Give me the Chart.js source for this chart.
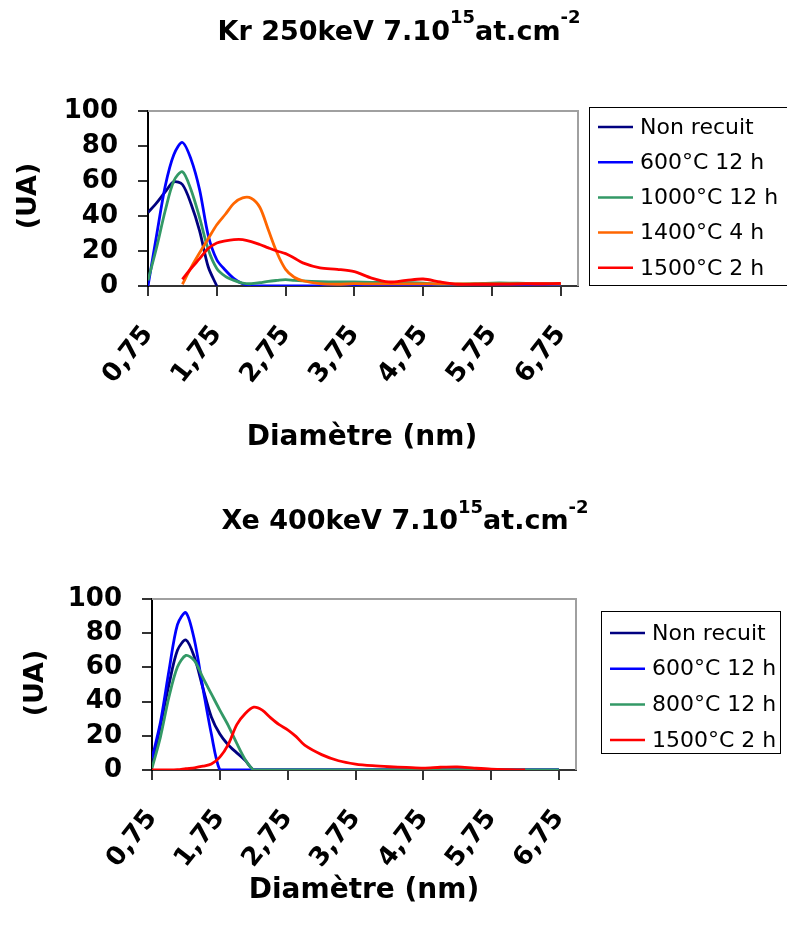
<!DOCTYPE html>
<html><head><meta charset="utf-8">
<script src="https://cdn.jsdelivr.net/npm/chart.js@4.4.1/dist/chart.umd.min.js"></script>
<style>body{margin:0;background:#fff;} canvas{display:block;}</style>
</head><body>
<canvas id="c1" width="787" height="466"></canvas>
<canvas id="c2" width="787" height="466"></canvas>
<script>
// ---------- data ----------
const X_GRID = [0.75,0.875,1,1.125,1.25,1.375,1.5,1.625,1.75,1.875,2,2.125,2.25,2.375,2.5,2.625,2.75,2.875,3,3.25,3.5,3.75,4,4.25,4.5,4.75,5,5.25,5.5,5.75,6,6.25,6.5,6.75];
const TICK_VALUES = [0.75,1.75,2.75,3.75,4.75,5.75,6.75];
const TICK_LABELS = ['0,75','1,75','2,75','3,75','4,75','5,75','6,75'];
const X_MIN = 0.75, X_MAX = 7.0;
const Y_MIN = 0, Y_MAX = 100, Y_STEP = 20;

const TITLE_TOP = ['Kr 250keV 7.10','15','at.cm','-2'];
const TITLE_BOT = ['Xe 400keV 7.10','15','at.cm','-2'];
const X_TITLE = 'Diamètre (nm)';
const Y_TITLE = '(UA)';

const KR_LABELS = ['Non recuit','600°C 12 h','1000°C 12 h','1400°C 4 h','1500°C 2 h'];
const KR_NON_RECUIT = [42,47.5,53.8,59.5,58,47,31.5,11,0];
const KR_600 = [0,29,57,75,82,72.5,55,29,15,9,4.2,1.3,0.2,0,0,0,0,0,0,0,0,0,0,0,0,0,0,0,0,0,0,0,0,0];
const KR_1000 = [3.2,22,43,60,65.3,55,39,21,10,5.5,3.2,1.7,1.3,1.9,2.7,3.2,3.6,3.2,2.9,2.5,2.3,2.3,2.1,2.1,1.9,1.7,1.1,1.1,1.3,1.7,1.7,1.5,1.3,1.3];
const KR_1400 = [null,null,null,null,1,10.5,19,27,35,41,47.3,50.4,50.2,45,32,19,9.5,5,3,1.3,1,1.3,1.2,1.2,1.2,1.2,1.2,1.2,1.2,1.2,1.2,1.2,1.2,1.2];
const KR_1500 = [null,null,null,null,3.8,10,15.6,21.4,24.6,25.8,26.5,26.5,25.4,23.7,21.8,20,18.5,16,13.2,10.3,9.5,8.2,4.5,2.3,3.2,4,2.3,1,1,1,1.1,1.3,1.3,1.5];

const XE_LABELS = ['Non recuit','600°C 12 h','800°C 12 h','1500°C 2 h'];
const XE_NON_RECUIT = [2.9,26,50,70,76,66,48,31,21,14.6,10,5.5,0,0,0,0,0,0,0,0,0,0,0,0,0,0,0,0,0,0,0,0,0,0];
const XE_600 = [6.8,28,58,85,92,76,48,21,0,0,0,0,0,0,0,0,0,0,0,0,0,0,0,0,0,0,0,0,0,0,0,0,0,0];
const XE_800 = [1,19.4,42.7,60.2,67,64,54,44.5,35,26,15.5,6,0,0,0,0,0,0,0,0,0,0,0,0,0,0,0,0,0,0,0,0,0,0];
const XE_1500 = [0,0,0,0.2,0.8,1.3,2.2,3.5,7.5,15,26.5,33,36.7,35,30.5,26.5,23.5,19.5,14.5,9,5.4,3.5,2.5,1.9,1.5,1.1,1.6,1.8,1.1,0.5,0.2,0];

const KR_COLORS = ['#000080','#0000FF','#339966','#FF6600','#FF0000'];
const XE_COLORS = ['#000080','#0000FF','#339966','#FF0000'];

// ---------- helpers ----------
function pts(xs, ys){ return ys.map((y,i)=>({x:xs[i], y:y})); }
const FONT = "'DejaVu Sans', sans-serif";

const decor = {
  id:'decor',
  beforeDatasetsDraw(chart){
    const ctx = chart.ctx, a = chart.chartArea;
    ctx.save();
    ctx.strokeStyle = '#a0a0a0'; ctx.lineWidth = 2;
    ctx.beginPath();
    ctx.moveTo(a.left, a.top); ctx.lineTo(a.right, a.top); ctx.lineTo(a.right, a.bottom);
    ctx.stroke();
    ctx.restore();
  },
  afterDraw(chart, args, o){
    const ctx = chart.ctx;
    ctx.save();
    ctx.fillStyle = '#000';
    // title with superscripts
    const parts = o.title;
    const mainF = 'bold 27px ' + FONT, supF = 'bold 18px ' + FONT;
    let total = 0; const widths = [];
    parts.forEach((t,i)=>{ ctx.font = i%2 ? supF : mainF; const w = ctx.measureText(t).width; widths.push(w); total += w; });
    let x = o.titleX - total/2;
    ctx.textBaseline = 'alphabetic'; ctx.textAlign = 'left';
    parts.forEach((t,i)=>{ ctx.font = i%2 ? supF : mainF; ctx.fillText(t, x, i%2 ? o.titleY - 16.5 : o.titleY); x += widths[i]; });
    // x title
    ctx.font = 'bold 28px ' + FONT; ctx.textAlign = 'center';
    ctx.fillText(X_TITLE, o.xTitleX, o.xTitleY);
    // y title
    ctx.save();
    ctx.translate(o.yTitleX, o.yTitleY); ctx.rotate(-Math.PI/2);
    ctx.font = 'bold 27px ' + FONT; ctx.textBaseline = 'middle';
    ctx.fillText(Y_TITLE, 0, 0);
    ctx.restore();
    // legend
    const L = o.legend;
    ctx.strokeStyle = '#000'; ctx.lineWidth = 1;
    ctx.strokeRect(L.x + 0.5, L.y + 0.5, L.w, L.h);
    ctx.font = '22px ' + FONT; ctx.textAlign = 'left'; ctx.textBaseline = 'middle';
    chart.data.datasets.forEach((ds,i)=>{
      const y = L.firstY + i*L.step;
      ctx.strokeStyle = ds.borderColor; ctx.lineWidth = 2.5;
      ctx.beginPath(); ctx.moveTo(L.lineX0, y); ctx.lineTo(L.lineX1, y); ctx.stroke();
      ctx.fillStyle = '#000';
      ctx.fillText(ds.label, L.textX, y + 1);
    });
    ctx.restore();
  }
};

function makeChart(id, labels, colors, series, lay){
  const n = series.length;
  const datasets = series.map((ys,i)=>({
    label: labels[i], data: pts(X_GRID, ys), borderColor: colors[i], backgroundColor: colors[i],
    borderWidth: 2.8, pointRadius: 0, tension: 0.3, fill:false, order: n-1-i, spanGaps:false
  }));
  return new Chart(document.getElementById(id), {
    type:'line',
    data:{datasets},
    options:{
      responsive:false, animation:false, devicePixelRatio:1,
      layout:{padding:{left:0, top:lay.top, right:787-lay.right, bottom:0}},
      plugins:{legend:{display:false}, tooltip:{enabled:false}, decor: lay.decor},
      scales:{
        x:{type:'linear', min:X_MIN, max:X_MAX,
          afterBuildTicks(s){ s.ticks = TICK_VALUES.map(v=>({value:v})); },
          afterFit(s){ s.height = 466 - lay.bottom; s.paddingLeft = 0; s.paddingRight = 0; },
          ticks:{autoSkip:false, minRotation:52, maxRotation:52, padding:lay.xPad, color:'#000',
            font:{family:FONT, weight:'bold', size:26},
            callback:(v,i)=>TICK_LABELS[i]},
          grid:{drawOnChartArea:false, tickLength:10, color:'#333', lineWidth:2},
          border:{display:true, color:'#333', width:2}
        },
        y:{min:Y_MIN, max:Y_MAX,
          afterFit(s){ s.width = lay.left; s.paddingTop = 0; s.paddingBottom = 0; },
          ticks:{stepSize:Y_STEP, padding:lay.yPad, color:'#000', font:{family:FONT, weight:'bold', size:26}},
          grid:{drawOnChartArea:false, tickLength:10, color:'#333', lineWidth:2},
          border:{display:true, color:'#000', width:2}
        }
      }
    },
    plugins:[decor]
  });
}

makeChart('c1', KR_LABELS, KR_COLORS, [KR_NON_RECUIT, KR_600, KR_1000, KR_1400, KR_1500], {
  left:148, top:111, right:578, bottom:286, xPad:24, yPad:20,
  decor:{title:TITLE_TOP, titleX:399, titleY:39.5, xTitleX:362, xTitleY:445, yTitleX:28.5, yTitleY:196,
    legend:{x:589, y:107, w:220, h:178, firstY:127, step:35.2, lineX0:598, lineX1:633, textX:640}}
});
makeChart('c2', XE_LABELS, XE_COLORS, [XE_NON_RECUIT, XE_600, XE_800, XE_1500], {
  left:152, top:133, right:576, bottom:304, xPad:24, yPad:20,
  decor:{title:TITLE_BOT, titleX:405, titleY:63, xTitleX:364, xTitleY:432, yTitleX:36, yTitleY:217,
    legend:{x:601, y:145, w:179, h:142, firstY:167, step:35.7, lineX0:610, lineX1:645, textX:652}}
});
</script>
</body></html>
